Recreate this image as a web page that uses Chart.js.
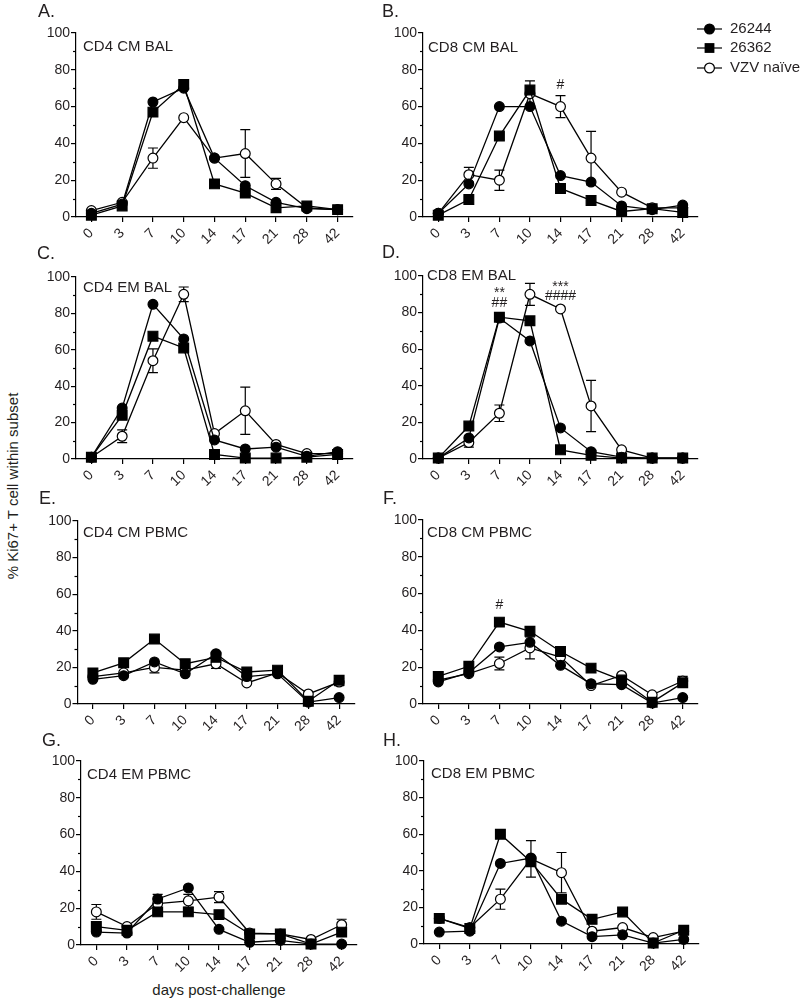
<!DOCTYPE html>
<html><head><meta charset="utf-8">
<script src="https://cdn.jsdelivr.net/npm/chart.js@4.4.1/dist/chart.umd.min.js"></script>
<style>
html,body{margin:0;padding:0;background:#fff}
body{width:800px;height:999px;position:relative;overflow:hidden;font-family:"Liberation Sans",Arial,sans-serif;color:#231f20}
canvas{position:absolute}
.t{position:absolute;white-space:nowrap;font-size:15px;transform:translate(-50%,-50%)}
.yt{transform:translate(-50%,-50%) rotate(-90deg)}
</style></head><body>
<div class="t yt" style="left:12px;top:486px">% Ki67+ T cell within subset</div>
<div class="t" style="left:219px;top:989px">days post-challenge</div>
<script>
// ---- data ----
const days = ['0','3','7','10','14','17','21','28','42'];
const seriesNames = ['26244','26362','VZV naïve'];
const yTickStep = 20;
const yMinorTicks = [10,30,50,70,90];

// A. CD4 CM BAL
const a26244 = [2, 7, 62.5, 70, 32, 17, 8, 4.5, 4];
const a26362 = [1, 6, 57, 72, 18, 13, 5, 6, 4];
const aNaive = [3.5, 8, 32, 54, 32, 34.5, 18, 5, 4];
const aNaiveErr = [null, null, 5.5, null, null, 13, 3, null, null];
// B. CD8 CM BAL
const b26244 = [2, 18, 60, 60, 22.5, 19, 6, 4, 6.5];
const b26362 = [1, 9.5, 44, 69, 15.5, 9, 3, 4.5, 2.5];
const bNaive = [2, 23, 20, 67, 60, 32, 13.5, 5, 5];
const bNaiveErr = [null, 4, 5.5, 7, 6, 14.5, null, null, null];
// C. CD4 EM BAL
const c26244 = [1, 28, 85, 66, 10.5, 5.5, 6.5, 1.5, 4];
const c26362 = [1, 24, 67.5, 61, 2.5, 0.5, 0.5, 1, 2.5];
const cNaive = [1, 12.5, 54, 90.5, 14, 26.5, 8, 3, 3];
const cNaiveErr = [null, 3.5, 6.5, 4, null, 13, null, null, null];
// D. CD8 EM BAL
const d26244 = [0.5, 11.5, 77, 64.5, 17, 4, 1, 0.5, 0.5];
const d26362 = [0.5, 18, 77.5, 75.5, 5, 2, 0.5, 0.5, 0.5];
const dNaive = [0.5, 9, 25, 90, 82, 29, 5, 0.5, 0.5];
const dNaiveErr = [null, 2.5, 4.5, 6, null, 14, null, null, null];
// E. CD4 CM PBMC
const e26244 = [13.5, 15.5, 23, 16.5, 27.5, 15, 16.5, 1, 3.5];
const e26362 = [17, 22.5, 35.5, 22, 25.5, 17.5, 18.5, 1.5, 13];
const eNaive = [15, 17, 20, 18.5, 22, 11.5, 17, 5.5, 12];
const eNaiveErr = [null, null, 3, null, 2.5, null, null, null, 2];
// F. CD8 CM PBMC
const f26244 = [12, 17, 31, 33.5, 21, 11, 10.5, 0.5, 3.5];
const f26362 = [15, 20.5, 44.5, 39.5, 28.5, 19.5, 13, 1, 11.5];
const fNaive = [13, 16.5, 22, 30.5, 25.5, 10, 15.5, 5, 12.5];
const fNaiveErr = [null, null, 3.5, 6, null, null, null, null, 2.5];
// G. CD4 EM PBMC
const g26244 = [7, 6.5, 25, 31, 8.5, 1.5, 2.5, 0.5, 0.5];
const g26362 = [10, 8, 18, 18, 16.5, 6, 6, 0.5, 7];
const gNaive = [18, 10, 22.5, 24, 26, 6.5, 6, 3, 11];
const gNaiveErr = [4, null, 5, 3.5, 3, null, null, null, 3];
// H. CD8 EM PBMC
const h26244 = [6.5, 7, 44, 47, 12.5, 4, 5, 0.5, 2.5];
const h26362 = [14, 8.5, 60, 45, 24.5, 13.5, 17.5, 0.5, 7.5];
const hNaive = [14, 9, 24.5, 46.5, 39, 7, 9, 3.5, 7];
const hNaiveErr = [null, null, 5.5, 10, 11, null, null, null, null];

// significance marks: category index, text, value (y) where the text is centred
const bNotes = [{i:4, t:'#', v:71.7}];
const dNotes = [{i:2, t:'**', v:90.4}, {i:2, t:'##', v:85.4}, {i:4, t:'***', v:94.1}, {i:4, t:'####', v:89}];
const fNotes = [{i:2, t:'#', v:53.8}];

const panelLetters = ['A.','B.','C.','D.','E.','F.','G.','H.'];
const panelTitles = ['CD4 CM BAL','CD8 CM BAL','CD4 EM BAL','CD8 EM BAL','CD4 CM PBMC','CD8 CM PBMC','CD4 EM PBMC','CD8 EM PBMC'];

// ---- layout (page pixels) ----
const layouts = [
  {axisX:76, top:33, bottom:217, width:277, lx:38, ly:12, tx:83, ty:47},
  {axisX:423, top:33, bottom:217, width:275, lx:382, ly:12, tx:428, ty:48},
  {axisX:76, top:277, bottom:459, width:277, lx:37, ly:254, tx:83, ty:288},
  {axisX:423, top:276, bottom:459, width:275, lx:382, ly:253, tx:427, ty:276},
  {axisX:77.5, top:521, bottom:704, width:277, lx:39, ly:499, tx:83, ty:533},
  {axisX:423, top:520, bottom:704, width:275, lx:383, ly:499, tx:427, ty:533},
  {axisX:81, top:761, bottom:945, width:276, lx:42, ly:741, tx:87, ty:775},
  {axisX:424, top:761, bottom:944, width:275, lx:383, ly:741, tx:431, ty:774}
];

const panels = [
  {data:[a26244,a26362,aNaive], err:aNaiveErr, notes:[]},
  {data:[b26244,b26362,bNaive], err:bNaiveErr, notes:bNotes, legend:true},
  {data:[c26244,c26362,cNaive], err:cNaiveErr, notes:[]},
  {data:[d26244,d26362,dNaive], err:dNaiveErr, notes:dNotes},
  {data:[e26244,e26362,eNaive], err:eNaiveErr, notes:[]},
  {data:[f26244,f26362,fNaive], err:fNaiveErr, notes:fNotes},
  {data:[g26244,g26362,gNaive], err:gNaiveErr, notes:[]},
  {data:[h26244,h26362,hNaive], err:hNaiveErr, notes:[]}
];

const FONT = '"Liberation Sans", Arial, sans-serif';
const INK = '#231f20';
Chart.defaults.font.family = FONT;
Chart.defaults.color = INK;

const Y_W = 45, X_H = 40, PAD_T = 35, PAD_B = 45;

function drawMarker(ctx, style, x, y) {
  ctx.save();
  ctx.lineWidth = 1.2;
  ctx.strokeStyle = '#000';
  if (style === 'rect') {
    ctx.fillStyle = '#000';
    ctx.fillRect(x - 4.9, y - 4.9, 9.8, 9.8);
  } else {
    ctx.beginPath();
    ctx.arc(x, y, 4.9, 0, Math.PI * 2);
    ctx.fillStyle = style === 'open' ? '#fff' : '#000';
    ctx.fill();
    ctx.stroke();
  }
  ctx.restore();
}

panels.forEach((p, k) => {
  const L = layouts[k];
  const colLeft = (k % 2 === 0) ? 0 : 380;
  const cw = (k % 2 === 0) ? 380 : 420;
  const ct = L.top - PAD_T;
  const ch = (L.bottom - L.top) + PAD_T + PAD_B;
  const cv = document.createElement('canvas');
  cv.width = cw; cv.height = ch;
  cv.style.left = colLeft + 'px';
  cv.style.top = ct + 'px';
  cv.style.width = cw + 'px'; cv.style.height = ch + 'px';
  document.body.appendChild(cv);

  const padLeft = L.axisX - colLeft - Y_W;
  const padRight = cw - (L.axisX - colLeft) - L.width;

  const panelPlugin = {
    id: 'panelDeco' + k,
    beforeDatasetsDraw(chart) {
      const ctx = chart.ctx, xs = chart.scales.x, ys = chart.scales.y;
      const vals = p.data[2];
      ctx.save();
      ctx.strokeStyle = '#000'; ctx.lineWidth = 1.2;
      p.err.forEach((e, i) => {
        if (e == null) return;
        const x = xs.getPixelForValue(i);
        const y1 = ys.getPixelForValue(vals[i] + e);
        const y2 = ys.getPixelForValue(vals[i] - e);
        ctx.beginPath();
        ctx.moveTo(x, y1); ctx.lineTo(x, y2);
        ctx.moveTo(x - 5, y1); ctx.lineTo(x + 5, y1);
        ctx.moveTo(x - 5, y2); ctx.lineTo(x + 5, y2);
        ctx.stroke();
      });
      ctx.restore();
    },
    afterDraw(chart) {
      const ctx = chart.ctx, xs = chart.scales.x, ys = chart.scales.y;
      ctx.save();
      // minor y ticks
      ctx.strokeStyle = '#000'; ctx.lineWidth = 1.2;
      yMinorTicks.forEach(v => {
        const y = Math.round(ys.getPixelForValue(v)) + 0.5;
        ctx.beginPath(); ctx.moveTo(chart.chartArea.left - 3, y); ctx.lineTo(chart.chartArea.left, y); ctx.stroke();
      });
      ctx.fillStyle = INK;
      // panel letter
      ctx.font = '18px ' + FONT;
      ctx.textAlign = 'left'; ctx.textBaseline = 'middle';
      ctx.fillText(panelLetters[k], L.lx - colLeft, L.ly - ct);
      // panel title
      ctx.font = '15px ' + FONT;
      ctx.fillText(panelTitles[k], L.tx - colLeft, L.ty - ct);
      // significance notes
      ctx.font = '14px ' + FONT;
      ctx.textAlign = 'center';
      p.notes.forEach(n => {
        ctx.fillText(n.t, xs.getPixelForValue(n.i), ys.getPixelForValue(n.v));
      });
      // legend
      if (p.legend) {
        const styles = ['filled','rect','open'];
        const rows = [29, 48, 68];
        ctx.font = '15px ' + FONT;
        ctx.textAlign = 'left';
        styles.forEach((s, i) => {
          const y = rows[i] - ct;
          ctx.strokeStyle = '#000'; ctx.lineWidth = 1.2;
          ctx.beginPath(); ctx.moveTo(697 - colLeft, y); ctx.lineTo(722 - colLeft, y); ctx.stroke();
          drawMarker(ctx, s, 709.5 - colLeft, y);
          ctx.fillStyle = INK;
          ctx.fillText(seriesNames[i], 730 - colLeft, y);
        });
      }
      ctx.restore();
    }
  };

  const base = {borderColor:'#000', borderWidth:1.3, pointBorderColor:'#000', pointBorderWidth:1.2, clip:false, tension:0};
  new Chart(cv, {
    type: 'line',
    data: {
      labels: days,
      datasets: [
        Object.assign({label: seriesNames[0], data: p.data[0], pointStyle:'circle', pointRadius:4.9, pointBackgroundColor:'#000', backgroundColor:'#000'}, base),
        Object.assign({label: seriesNames[1], data: p.data[1], pointStyle:'rect', pointRadius:6.9, pointBackgroundColor:'#000', backgroundColor:'#000'}, base),
        Object.assign({label: seriesNames[2], data: p.data[2], pointStyle:'circle', pointRadius:4.9, pointBackgroundColor:'#fff', backgroundColor:'#fff'}, base)
      ]
    },
    options: {
      responsive: false, animation: false, devicePixelRatio: 1,
      events: [],
      layout: {autoPadding: false, padding: {left: padLeft, right: padRight, top: PAD_T, bottom: PAD_B - X_H}},
      plugins: {legend: {display: false}, tooltip: {enabled: false}, title: {display: false}},
      scales: {
        x: {
          type: 'category', offset: true,
          grid: {display: true, drawOnChartArea: false, drawTicks: true, tickLength: 5, color: '#000', lineWidth: 1.2, offset: false},
          border: {display: true, color: '#000', width: 1.2},
          ticks: {minRotation: 45, maxRotation: 45, autoSkip: false, padding: 3, color: INK, font: {size: 14, family: FONT}},
          afterFit: s => { s.height = X_H; }
        },
        y: {
          min: 0, max: 100,
          grid: {display: true, drawOnChartArea: false, drawTicks: true, tickLength: 5, color: '#000', lineWidth: 1.2},
          border: {display: true, color: '#000', width: 1.2},
          ticks: {stepSize: yTickStep, padding: 1, color: INK, font: {size: 14, family: FONT}},
          afterFit: s => { s.width = Y_W; }
        }
      }
    },
    plugins: [panelPlugin]
  });
});
</script>
</body></html>
